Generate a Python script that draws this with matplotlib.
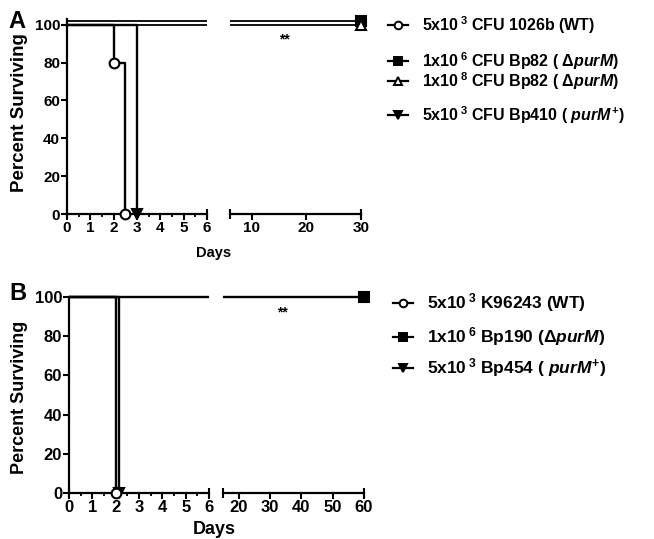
import matplotlib.pyplot as plt
from matplotlib.lines import Line2D
from matplotlib.transforms import offset_copy
from matplotlib.ticker import MultipleLocator

plt.rcParams['font.family'] = ['Liberation Sans', 'DejaVu Sans']
plt.rcParams['font.weight'] = 'bold'
plt.rcParams['mathtext.fontset'] = 'custom'
plt.rcParams['mathtext.rm'] = 'Liberation Sans:bold'
plt.rcParams['mathtext.it'] = 'Liberation Sans:italic:bold'
plt.rcParams['mathtext.bf'] = 'Liberation Sans:bold'
plt.rcParams['mathtext.default'] = 'rm'

# ---------------- data ----------------
# Panel A (days, percent surviving)
a_wt_days = [0, 2, 2.5]
a_wt_surv = [100, 80, 0]
a_bp82_6_days = [0, 30]
a_bp82_6_surv = [100, 100]
a_bp82_8_days = [0, 30]
a_bp82_8_surv = [100, 100]
a_bp410_days = [0, 3]
a_bp410_surv = [100, 0]

a_labels = [
    "5x10$\\,^{3}$ CFU 1026b (WT)",
    "1x10$\\,^{6}$ CFU Bp82 ( Δ$\\mathit{purM}$)",
    "1x10$\\,^{8}$ CFU Bp82 ( Δ$\\mathit{purM}$)",
    "5x10$\\,^{3}$ CFU Bp410 ( $\\mathit{purM}^{+}$)",
]

# Panel B
b_wt_days = [0, 2]
b_wt_surv = [100, 0]
b_bp190_days = [0, 60]
b_bp190_surv = [100, 100]
b_bp454_days = [0, 2.15]
b_bp454_surv = [100, 0]

b_labels = [
    "5x10$\\,^{3}$ K96243 (WT)",
    "1x10$\\,^{6}$ Bp190 (Δ$\\mathit{purM}$)",
    "5x10$\\,^{3}$ Bp454 ( $\\mathit{purM}^{+}$)",
]

W, H = 654, 539
fig = plt.figure(figsize=(W / 100, H / 100), dpi=100)


def px_axes(x0, x1, ytop, ybot):
    return fig.add_axes([x0 / W, 1 - ybot / H, (x1 - x0) / W, (ybot - ytop) / H])


def style_axes(ax, left, fs):
    for s in ['top', 'right']:
        ax.spines[s].set_visible(False)
    ax.spines['bottom'].set_linewidth(1.6)
    ax.spines['left'].set_linewidth(1.6)
    ax.tick_params(which='major', length=4, width=1.5, labelsize=fs, pad=1)
    ax.tick_params(which='minor', length=2.5, width=1.3)
    ax.patch.set_alpha(0)
    if not left:
        ax.spines['left'].set_visible(False)
        ax.set_yticks([])
    # end caps of the broken axis
    ax.plot([0, 1], [0, 0], transform=ax.transAxes, ls='none', marker='|',
            ms=7, mew=1.5, color='k', clip_on=False)


def draw_curve(axes, days, surv, marker, face, ms, lw=1.7, dy=0, zorder=3):
    for ax in axes:
        tr = offset_copy(ax.transData, fig=fig, x=0, y=dy, units='points')
        ax.step(days, surv, where='post', color='k', lw=lw, transform=tr, zorder=zorder)
        x0, x1 = ax.get_xlim()
        for d, s in list(zip(days, surv))[1:]:
            if x0 - 1e-9 <= d <= x1 + 1e-9:
                ax.plot([d], [s], marker=marker, ms=ms, mfc=face, mec='k', mew=1.5,
                        transform=tr, clip_on=False, zorder=zorder + 2)


def legend_entry(y, xm, xt, marker, face, ms, text, fs):
    yf = 1 - y / H
    fig.add_artist(Line2D([(xm - 10) / W, (xm + 10) / W], [yf, yf], color='k', lw=1.6))
    fig.add_artist(Line2D([xm / W], [yf], marker=marker, ms=ms, mfc=face, mec='k', mew=1.4))
    fig.text(xt / W, yf, text, fontsize=fs, va='center', ha='left')


# ---------------- Panel A ----------------
axA1 = px_axes(67, 207, 19, 214)
axA2 = px_axes(230, 361, 19, 214)
for ax in (axA1, axA2):
    ax.set_ylim(0, 103)
axA1.set_xlim(0, 6)
axA2.set_xlim(6, 30)
style_axes(axA1, True, 11)
style_axes(axA2, False, 11)
axA1.set_xticks(range(0, 7))
axA1.xaxis.set_minor_locator(MultipleLocator(0.5))
axA1.set_yticks([0, 20, 40, 60, 80, 100])
axA2.set_xticks([10, 20, 30])

draw_curve((axA1, axA2), a_bp82_8_days, a_bp82_8_surv, '^', 'white', 7, lw=1.3, zorder=4)
draw_curve((axA1, axA2), a_bp82_6_days, a_bp82_6_surv, 's', 'k', 6.5, lw=1.3, dy=2.6, zorder=3)
draw_curve((axA1, axA2), a_wt_days, a_wt_surv, 'o', 'white', 7, zorder=5)
draw_curve((axA1, axA2), a_bp410_days, a_bp410_surv, 'v', 'k', 7, zorder=5)

axA2.text(16, 92, "**", ha='center', va='center', fontsize=10)
fig.text(17 / W, 1 - 21 / H, "A", fontsize=17, ha='center', va='center')
fig.text(20 / W, 1 - 113 / H, "Percent Surviving", rotation=90, fontsize=13.5,
         ha='center', va='center')
fig.text(214 / W, 1 - 253 / H, "Days", fontsize=10.5, ha='center', va='center')

legend_entry(25, 398, 422, 'o', 'white', 5.5, a_labels[0], 11.5)
legend_entry(61, 398, 422, 's', 'k', 5.5, a_labels[1], 11.5)
legend_entry(81, 398, 422, '^', 'white', 5.5, a_labels[2], 11.5)
legend_entry(115, 398, 422, 'v', 'k', 5.5, a_labels[3], 11.5)

# ---------------- Panel B ----------------
axB1 = px_axes(69, 209, 295, 493)
axB2 = px_axes(223, 364, 295, 493)
for ax in (axB1, axB2):
    ax.set_ylim(0, 101)
axB1.set_xlim(0, 6)
axB2.set_xlim(15, 60)
style_axes(axB1, True, 12)
style_axes(axB2, False, 12)
axB1.spines['left'].set_bounds(0, 100)
axB1.set_xticks(range(0, 7))
axB1.xaxis.set_minor_locator(MultipleLocator(0.5))
axB1.set_yticks([0, 20, 40, 60, 80, 100])
axB2.set_xticks([20, 30, 40, 50, 60])

draw_curve((axB1, axB2), b_bp190_days, b_bp190_surv, 's', 'k', 6.5, zorder=3)
draw_curve((axB1, axB2), b_wt_days, b_wt_surv, 'o', 'white', 7, zorder=5)
draw_curve((axB1, axB2), b_bp454_days, b_bp454_surv, 'v', 'k', 7, zorder=4)

axB2.text(34, 92, "**", ha='center', va='center', fontsize=10)
fig.text(18 / W, 1 - 293 / H, "B", fontsize=17, ha='center', va='center')
fig.text(20 / W, 1 - 397 / H, "Percent Surviving", rotation=90, fontsize=13,
         ha='center', va='center')
fig.text(214 / W, 1 - 530 / H, "Days", fontsize=13, ha='center', va='center')

legend_entry(303, 403, 427, 'o', 'white', 5.5, b_labels[0], 12.5)
legend_entry(337, 403, 427, 's', 'k', 5.5, b_labels[1], 12.5)
legend_entry(368, 403, 427, 'v', 'k', 5.5, b_labels[2], 12.5)

fig.savefig("out.png", dpi=100)
